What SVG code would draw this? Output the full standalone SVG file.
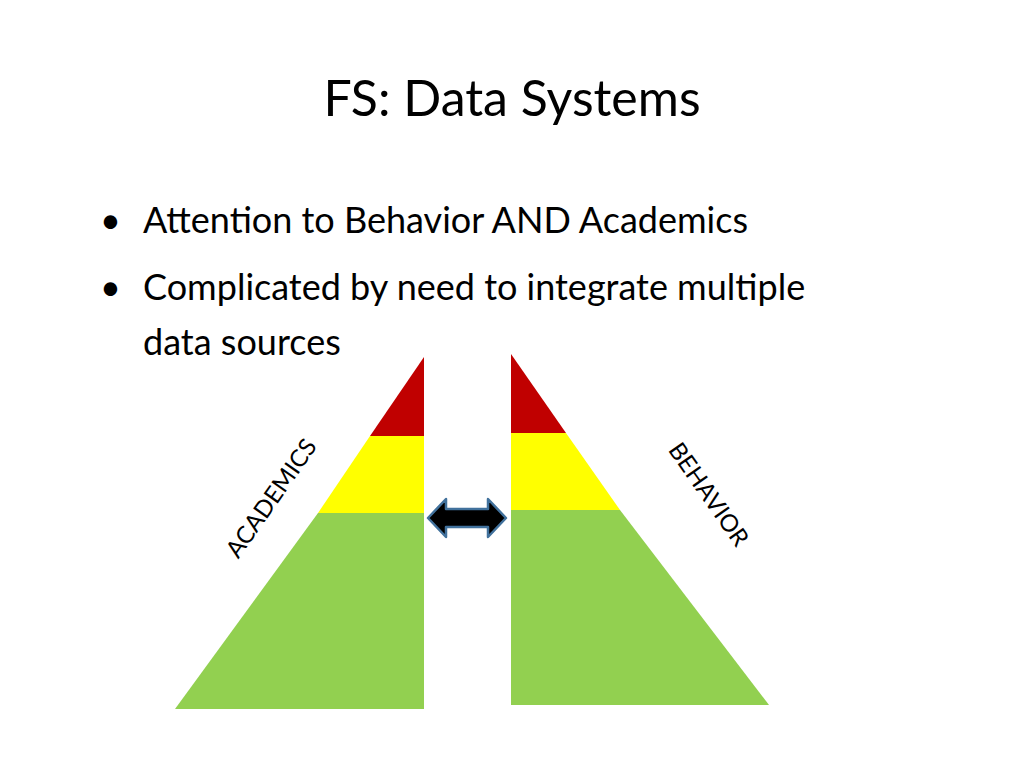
<svg xmlns="http://www.w3.org/2000/svg" width="1024" height="768" viewBox="0 0 1024 768">
<style>
text{font-family:Lato,"Open Sans",sans-serif;fill:#000}
.r{fill:#c00000}.y{fill:#ffff00}.g{fill:#92d050}
</style>
<rect width="1024" height="768" fill="#fff"/>
<text x="512" y="116" font-size="50" text-anchor="middle">FS: Data Systems</text>
<text x="100" y="233" font-size="36">•</text>
<text x="143" y="233" font-size="36">Attention to Behavior AND Academics</text>
<text x="100" y="300" font-size="36">•</text>
<text x="143" y="300" font-size="36">Complicated by need to integrate multiple</text>
<text x="143" y="355" font-size="36">data sources</text>
<g id="academics">
<polygon class="r" points="424,357 424,436 370,436"/>
<polygon class="y" points="370,436 424,436 424,513 318,513"/>
<polygon class="g" points="318,513 424,513 424,709 175,709"/>
<text transform="translate(278,503) rotate(-55)" font-size="24" text-anchor="middle">ACADEMICS</text>
</g>
<g id="behavior">
<polygon class="r" points="511,354 566,433 511,433"/>
<polygon class="y" points="511,433 566,433 620,510 511,510"/>
<polygon class="g" points="511,510 620,510 769,705 511,705"/>
<text transform="translate(702,499) rotate(55)" font-size="24" text-anchor="middle">BEHAVIOR</text>
</g>
<g id="connectors">
<polygon points="428,518 446,499 446,509 488,509 488,499 506,518 488,537 488,527 446,527 446,537" fill="#000" stroke="#41719c" stroke-width="2.5" stroke-linejoin="round"/>
</g>
</svg>
